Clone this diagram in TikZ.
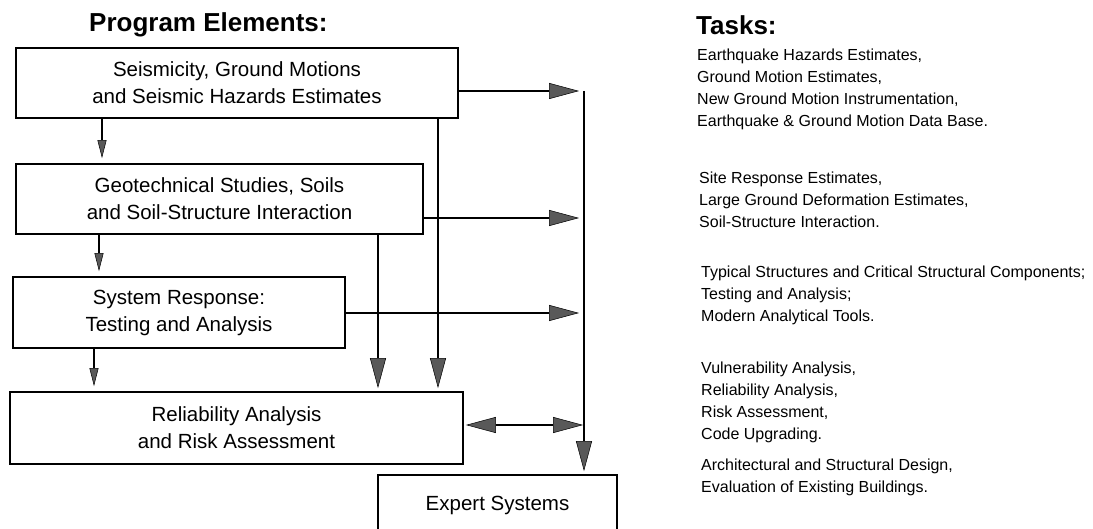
\documentclass[tikz,border=0pt]{standalone}
\usepackage{fontspec}
\setmainfont{Liberation Sans}
\usetikzlibrary{arrows.meta, calc}
\newcommand{\boxfont}{\fontsize{20.5}{27}\selectfont}
\newcommand{\taskfont}{\fontsize{16}{21.8}\selectfont}
\newcommand{\headfont}{\fontsize{26}{30}\selectfont\bfseries}
\tikzset{
    element/.style={draw, line width=1.8pt, inner sep=0pt, align=center, font=\boxfont}, % program element boxes
    tasklist/.style={anchor=north west, inner sep=0pt, align=left, font=\taskfont}, % task texts on the right
    heading/.style={anchor=base west, inner sep=0pt, font=\headfont},
    smalltip/.tip={Triangle[length=18pt,width=9pt,line width=0.5pt,fill=black!65]},
    bigtip/.tip={Triangle[length=30pt,width=16pt,line width=0.5pt,fill=black!65]},
}
\tikzstyle{link} = [line width=1.8pt, -smalltip, shorten >=5pt]
\tikzstyle{feed} = [line width=1.8pt, -bigtip, shorten >=5pt]

\begin{document}
\begin{tikzpicture}[x=1pt, y=-1pt]
    \clip (0,0) rectangle (1093,529);

    \node[heading] (elements) at (89,32) {Program Elements:};
    \node[heading] (tasks) at (696,35) {Tasks:};

    \node[element, minimum width=442pt, minimum height=70pt] (seis) at (237,83) {Seismicity, Ground Motions\\and Seismic Hazards Estimates};
    \node[element, minimum width=407pt, minimum height=70pt] (geo) at (219.5,199) {Geotechnical Studies, Soils\\and Soil-Structure Interaction};
    \node[element, minimum width=332pt, minimum height=71pt] (resp) at (179,312.5) {System Response:\\Testing and Analysis};
    \node[element, minimum width=453pt, minimum height=72pt] (rel) at (236.5,428) {Reliability Analysis\\and Risk Assessment};
    \node[element, minimum width=239pt, minimum height=60pt] (expert) at (497.5,505) {Expert Systems};

    % the vertical collector line
    \coordinate (b1) at (584,91);
    \coordinate (b2) at (584,218);
    \coordinate (b3) at (584,313);
    \coordinate (b4) at (584,425);

    \draw[link] (seis.south -| 102,0) -- (geo.north -| 102,0);
    \draw[link] (geo.south -| 99,0) -- (resp.north -| 99,0);
    \draw[link] (resp.south -| 94,0) -- (rel.north -| 94,0);

    \draw[feed, shorten >=3pt] (seis.south -| 438,0) -- (rel.north -| 438,0);
    \draw[feed, shorten >=3pt] (geo.south -| 378,0) -- (rel.north -| 378,0);

    \draw[feed] (seis.east |- b1) -- (b1);
    \draw[feed] (geo.east |- b2) -- (b2);
    \draw[feed] (resp.east |- b3) -- (b3);
    \draw[feed, bigtip-bigtip, shorten <=2pt, shorten >=1pt] (rel.east |- b4) -- (b4);
    \draw[feed, shorten >=3pt] (b1) -- (b1 |- expert.north);

    \node[tasklist] (t1) at (697,49) {Earthquake Hazards Estimates,\\Ground Motion Estimates,\\New Ground Motion Instrumentation,\\Earthquake \& Ground Motion Data Base.};
    \node[tasklist] (t2) at (699,172) {Site Response Estimates,\\Large Ground Deformation Estimates,\\Soil-Structure Interaction.};
    \node[tasklist] (t3) at (701,266) {Typical Structures and Critical Structural Components;\\Testing and Analysis;\\Modern Analytical Tools.};
    \node[tasklist] (t4) at (701,362) {Vulnerability Analysis,\\Reliability Analysis,\\Risk Assessment,\\Code Upgrading.};
    \node[tasklist] (t5) at (701,459) {Architectural and Structural Design,\\Evaluation of Existing Buildings.};
\end{tikzpicture}
\end{document}
